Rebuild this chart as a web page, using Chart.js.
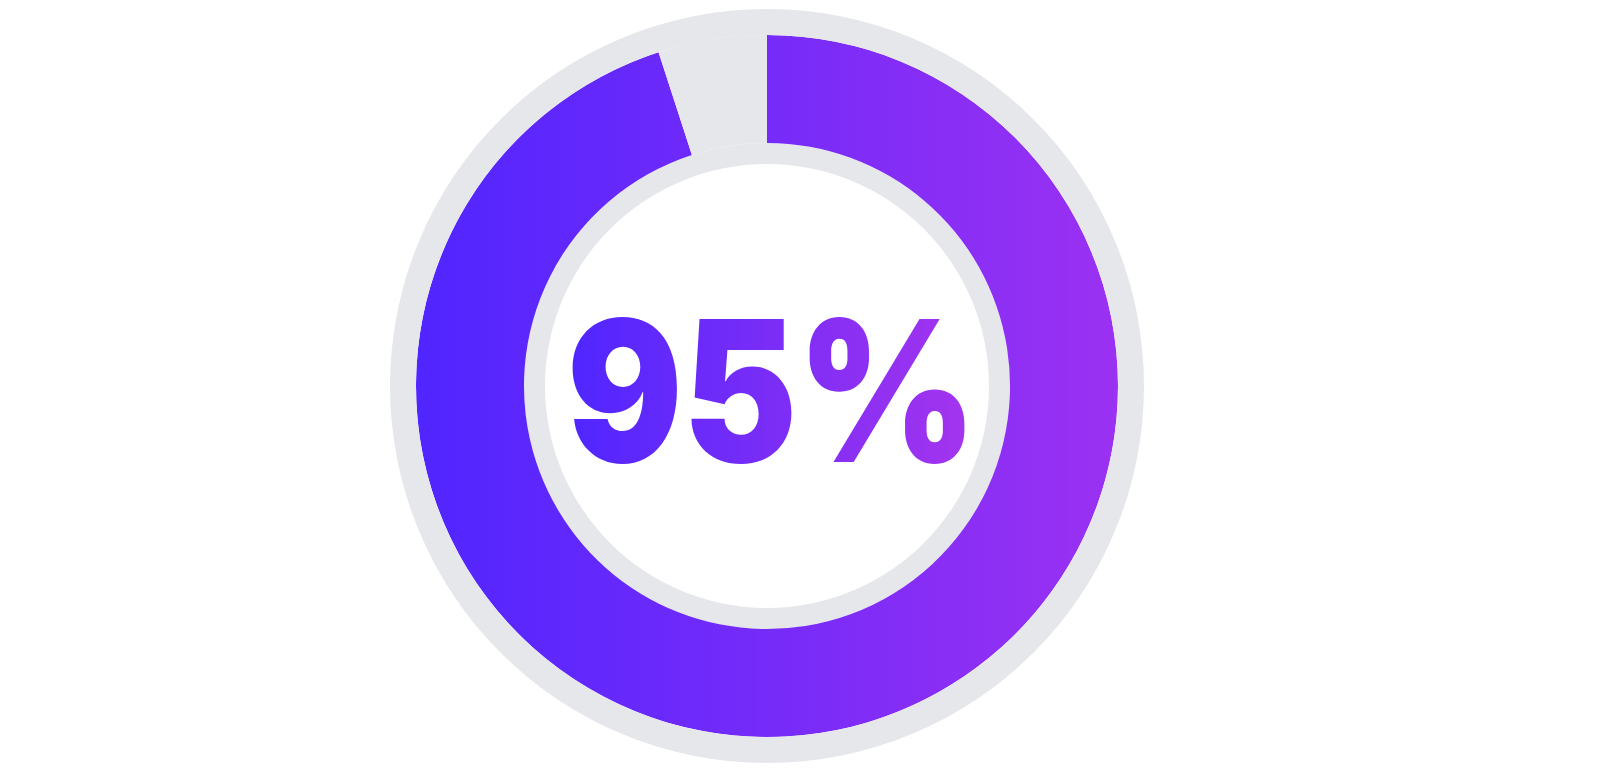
<!DOCTYPE html>
<html>
<head>
<meta charset="utf-8">
<style>
  html, body { margin: 0; padding: 0; background: #ffffff; }
  #wrap { width: 1600px; height: 768px; position: relative; }
</style>
<script src="https://cdn.jsdelivr.net/npm/chart.js@4"></script>
</head>
<body>
<div id="wrap"><canvas id="c" width="1600" height="768"></canvas></div>
<script>
const categories = ['Complete', 'Remaining'];
const progressValues = [95, 5];
const trackValues = [100];
const centerLabel = '95%';

const GRAY = '#e5e7eb';

function ringGradient(ctx) {
  const chart = ctx.chart;
  const area = chart.chartArea;
  if (!area || !isFinite(area.left) || !isFinite(area.right)) return '#6a2bff';
  const cx = (area.left + area.right) / 2;
  const outer = Math.min(area.right - area.left, area.bottom - area.top) / 2;
  const r = outer * (351 / 377);
  const g = chart.ctx.createLinearGradient(cx - r, 0, cx + r, 0);
  g.addColorStop(0, '#5025ff');
  g.addColorStop(1, '#9b31f2');
  return g;
}

const centerText = {
  id: 'centerText',
  afterDraw(chart) {
    const area = chart.chartArea;
    const ctx = chart.ctx;
    const left = 572, right = 965, baseline = 462, capH = 145;
    ctx.save();
    ctx.font = '900 200px Inter, sans-serif';
    ctx.textAlign = 'left';
    ctx.textBaseline = 'alphabetic';
    let m = ctx.measureText(centerLabel);
    const h = m.actualBoundingBoxAscent;
    const size = 200 * capH / h;
    ctx.font = '900 ' + size.toFixed(1) + 'px Inter, sans-serif';
    m = ctx.measureText(centerLabel);
    const inkW = m.actualBoundingBoxLeft + m.actualBoundingBoxRight;
    const sx = (right - left) / inkW;
    ctx.translate(left, baseline);
    ctx.scale(sx, 1);
    const g = ctx.createLinearGradient(0, 0, inkW, 0);
    g.addColorStop(0, '#5026ff');
    g.addColorStop(1, '#a334ee');
    ctx.fillStyle = g;
    ctx.fillText(centerLabel, m.actualBoundingBoxLeft, 0);
    ctx.restore();
  }
};

new Chart(document.getElementById('c'), {
  type: 'doughnut',
  data: {
    labels: categories,
    datasets: [
      { data: trackValues, backgroundColor: [GRAY], borderWidth: 0, weight: 26 },
      { data: progressValues, backgroundColor: (ctx) => ctx.dataIndex === 0 ? ringGradient(ctx) : GRAY, borderWidth: 0, weight: 108 },
      { data: trackValues, backgroundColor: [GRAY], borderWidth: 0, weight: 21 }
    ]
  },
  options: {
    responsive: false,
    animation: false,
    cutout: 222,
    layout: { padding: { left: 0, right: 66, top: 9, bottom: 5 } },
    plugins: {
      legend: { display: false },
      tooltip: { enabled: false }
    },
    events: []
  },
  plugins: [centerText]
});
</script>
</body>
</html>
